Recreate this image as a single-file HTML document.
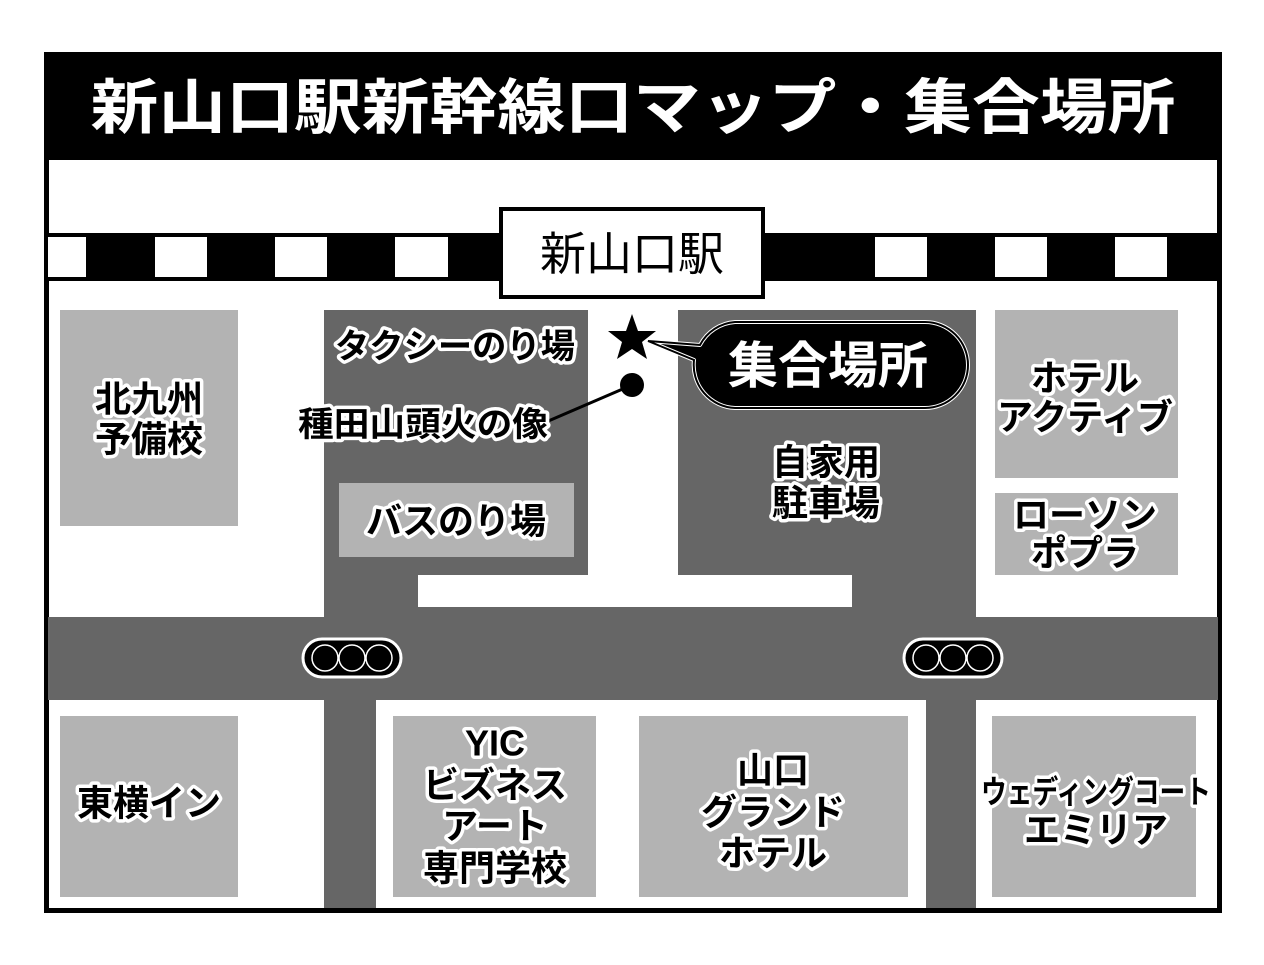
<!DOCTYPE html>
<html><head><meta charset="utf-8"><style>
html,body{margin:0;padding:0;background:#fff;width:1264px;height:965px;overflow:hidden}
svg{display:block}
.t{font-family:"Liberation Sans","Noto Sans CJK JP",sans-serif;font-weight:bold;fill:#000;stroke:#fff;stroke-width:7;paint-order:stroke;stroke-linejoin:round;text-anchor:middle;dominant-baseline:central}
</style></head><body>
<svg width="1264" height="965" viewBox="0 0 1264 965">
<rect x="0" y="0" width="1264" height="965" fill="#fff"/>
<rect x="46.5" y="54.5" width="1173" height="856" fill="#fff" stroke="#000" stroke-width="5"/>
<rect x="44" y="52" width="1178" height="108" fill="#000"/>
<text x="633" y="108" font-family="Liberation Sans,Noto Sans CJK JP,sans-serif" font-weight="bold" font-size="60" fill="#fff" text-anchor="middle" dominant-baseline="central" textLength="1085" lengthAdjust="spacingAndGlyphs">新山口駅新幹線口マップ・集合場所</text>
<rect x="48" y="233" width="1170" height="48" fill="#000"/>
<g fill="#fff">
<rect x="48" y="237" width="38" height="40"/>
<rect x="155" y="237" width="52" height="40"/>
<rect x="275" y="237" width="52" height="40"/>
<rect x="395" y="237" width="53" height="40"/>
<rect x="875" y="237" width="52" height="40"/>
<rect x="995" y="237" width="52" height="40"/>
<rect x="1115" y="237" width="52" height="40"/>
</g>
<rect x="501" y="209" width="262" height="88" fill="#fff" stroke="#000" stroke-width="4"/>
<text x="632" y="254" font-family="Liberation Sans,Noto Sans CJK JP,sans-serif" font-size="46" fill="#000" text-anchor="middle" dominant-baseline="central">新山口駅</text>
<g fill="#666">
<rect x="324" y="310" width="264" height="307"/>
<rect x="678" y="310" width="298" height="307"/>
<rect x="324" y="575" width="652" height="42"/>
<rect x="48" y="617" width="1170" height="83"/>
<rect x="324" y="700" width="52" height="208"/>
<rect x="926" y="700" width="50" height="208"/>
</g>
<rect x="418" y="575" width="434" height="32" fill="#fff"/>
<g fill="#b3b3b3">
<rect x="60" y="310" width="178" height="216"/>
<rect x="339" y="483" width="235" height="74"/>
<rect x="995" y="310" width="183" height="168"/>
<rect x="995" y="493" width="183" height="82"/>
<rect x="60" y="716" width="178" height="181"/>
<rect x="393" y="716" width="203" height="181"/>
<rect x="639" y="716" width="269" height="181"/>
<rect x="992" y="716" width="204" height="181"/>
</g>
<g>
<rect x="303" y="639" width="98" height="38" rx="19" fill="#000" stroke="#fff" stroke-width="3"/>
<circle cx="325" cy="658" r="13" fill="#000" stroke="#fff" stroke-width="1.5"/>
<circle cx="352" cy="658" r="13" fill="#000" stroke="#fff" stroke-width="1.5"/>
<circle cx="379" cy="658" r="13" fill="#000" stroke="#fff" stroke-width="1.5"/>
<rect x="904" y="639" width="98" height="38" rx="19" fill="#000" stroke="#fff" stroke-width="3"/>
<circle cx="926" cy="658" r="13" fill="#000" stroke="#fff" stroke-width="1.5"/>
<circle cx="953" cy="658" r="13" fill="#000" stroke="#fff" stroke-width="1.5"/>
<circle cx="980" cy="658" r="13" fill="#000" stroke="#fff" stroke-width="1.5"/>
</g>
<polygon points="632,314 638,331 656,331 642,342 647,359 632,349 617,359 622,342 608,331 626,331" fill="#000"/>
<line x1="632" y1="385" x2="546" y2="422" stroke="#000" stroke-width="3"/>
<circle cx="632" cy="385" r="12" fill="#000"/>
<path d="M735,322 H925 A43,43 0 0 1 925,408 H735 A43,43 0 0 1 694,360 L648,341 L700,345 A43,43 0 0 1 735,322 Z" fill="#000" stroke="#fff" stroke-width="4" stroke-linejoin="round"/>
<path d="M735,322 H925 A43,43 0 0 1 925,408 H735 A43,43 0 0 1 694,360 L648,341 L700,345 A43,43 0 0 1 735,322 Z" fill="none" stroke="#000" stroke-width="2"/>
<text x="828" y="366" font-family="Liberation Sans,Noto Sans CJK JP,sans-serif" font-weight="bold" font-size="50" fill="#fff" text-anchor="middle" dominant-baseline="central">集合場所</text>
<g class="t" font-size="36">
<text x="149" y="399">北九州</text>
<text x="149" y="439">予備校</text>
<text x="455" y="347" font-size="34" textLength="240" lengthAdjust="spacingAndGlyphs">タクシーのり場</text>
<text x="423" y="425" font-size="34" textLength="250" lengthAdjust="spacingAndGlyphs">種田山頭火の像</text>
<text x="456" y="521">バスのり場</text>
<text x="826" y="462">自家用</text>
<text x="826" y="503">駐車場</text>
<text x="1085" y="378">ホテル</text>
<text x="1085" y="417">アクティブ</text>
<text x="1085" y="515">ローソン</text>
<text x="1085" y="553">ポプラ</text>
<text x="149" y="803">東横イン</text>
<text x="495" y="743">YIC</text>
<text x="495" y="785">ビズネス</text>
<text x="495" y="826">アート</text>
<text x="495" y="868">専門学校</text>
<text x="773" y="770">山口</text>
<text x="773" y="812">グランド</text>
<text x="773" y="853">ホテル</text>
<text x="1096" y="792" font-size="32" textLength="230" lengthAdjust="spacingAndGlyphs">ウェディングコート</text>
<text x="1096" y="830">エミリア</text>
</g>
</svg>
</body></html>
